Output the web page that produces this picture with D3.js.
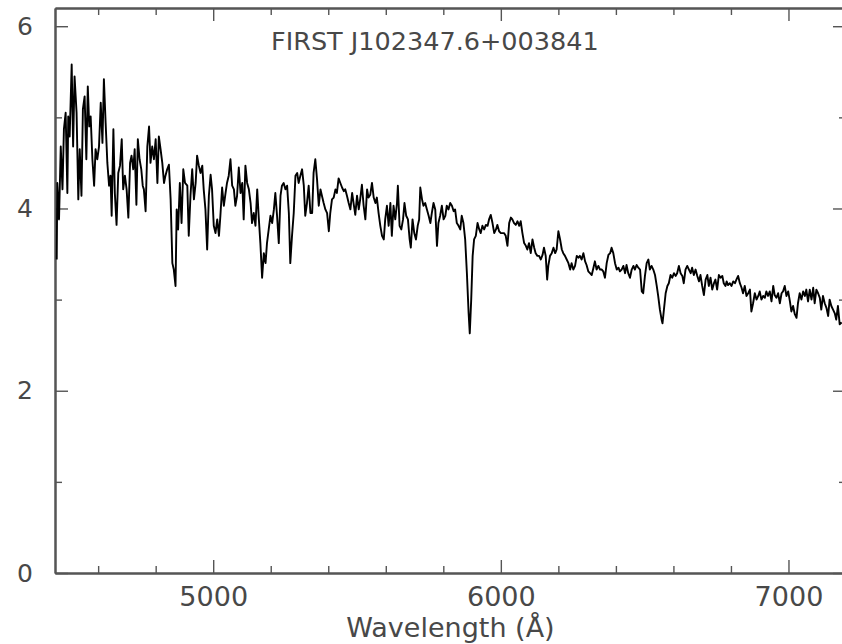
<!DOCTYPE html>
<html>
<head>
<meta charset="utf-8">
<script src="https://cdn.jsdelivr.net/npm/d3@7"></script>
<style>
  html, body { margin: 0; padding: 0; background: #fff; }
  svg { display: block; }
</style>
</head>
<body>
<svg id="chart"></svg>
<script>
// spectrum (wavelength in Angstrom, flux in arbitrary units)
const wavelength = [
  4456, 4458, 4464, 4470, 4476, 4481, 4487, 4493, 4496, 4501,
  4508, 4513, 4518, 4525, 4531, 4536, 4542, 4547, 4553, 4559,
  4564, 4569, 4574, 4580, 4586, 4591, 4597, 4603, 4609, 4615,
  4620, 4626, 4632, 4638, 4643, 4647, 4653, 4658, 4664, 4670,
  4676, 4682, 4687, 4693, 4699, 4705, 4711, 4716, 4722, 4727,
  4733, 4738, 4744, 4750, 4755, 4759, 4765, 4771, 4777, 4782,
  4788, 4794, 4800, 4806, 4811, 4817, 4823, 4829, 4834, 4840,
  4846, 4852, 4858, 4863, 4869, 4873, 4878, 4884, 4890, 4896,
  4902,
  4910, 4915, 4921, 4927, 4933, 4939, 4944, 4950, 4956, 4962,
  4967, 4973, 4979, 4985, 4991, 4996, 5002, 5008, 5014, 5020,
  5025, 5031, 5037, 5043, 5048, 5054, 5060, 5066, 5072, 5077,
  5083, 5089, 5095, 5101, 5106, 5112, 5118, 5124, 5130, 5135,
  5141, 5147, 5153, 5158, 5164, 5170, 5176, 5182, 5187, 5193,
  5199, 5205, 5211, 5216, 5222, 5228, 5234, 5239, 5245, 5251,
  5257, 5263, 5268, 5274, 5280, 5286, 5292, 5297, 5303, 5309,
  5315, 5320, 5326, 5332, 5338, 5344, 5349, 5355, 5361, 5367,
  5373,
  5378, 5384, 5390, 5396, 5402, 5407, 5413, 5419, 5425, 5430,
  5436, 5442, 5448, 5454, 5459, 5465, 5471, 5477, 5483, 5488,
  5494, 5500, 5506, 5511, 5517, 5523, 5529, 5535, 5540, 5546,
  5552, 5558, 5564, 5569, 5575, 5581, 5587, 5593, 5598, 5604,
  5610, 5616, 5621, 5627, 5633, 5639, 5642, 5648, 5654, 5660,
  5665, 5671, 5677, 5683, 5687, 5693, 5699, 5705, 5711, 5716,
  5720, 5726, 5731, 5737, 5743, 5749, 5755, 5760, 5766, 5772,
  5778, 5783, 5789, 5795, 5801, 5807, 5812, 5818, 5824, 5830,
  5836, 5841,
  5847, 5853, 5859, 5864, 5870, 5876, 5882, 5888, 5892, 5897,
  5902, 5907, 5913, 5919, 5925, 5930, 5936, 5942, 5948, 5954,
  5959, 5965, 5971, 5977, 5983, 5988, 5994, 6000, 6006, 6011,
  6017, 6023, 6029, 6035, 6040, 6046, 6052, 6058, 6064, 6069,
  6075, 6081, 6087, 6092, 6098, 6104, 6110, 6116, 6121, 6127,
  6133, 6139, 6145, 6150, 6156, 6161, 6165, 6171, 6177, 6183,
  6189, 6194, 6200, 6206, 6212, 6217, 6223, 6229, 6235, 6241,
  6246, 6252, 6258, 6264, 6270, 6275, 6281, 6287, 6293, 6298,
  6304, 6310,
  6316, 6322, 6327, 6333, 6339, 6345, 6351, 6356, 6362, 6368,
  6374, 6380, 6385, 6391, 6397, 6403, 6409, 6414, 6420, 6426,
  6432, 6437, 6443, 6449, 6455, 6461, 6466, 6472, 6478, 6484,
  6490, 6495, 6501, 6507, 6513, 6518, 6524, 6530, 6536, 6542,
  6547, 6553, 6559, 6562, 6567, 6573, 6579, 6584, 6590, 6596,
  6602, 6608, 6613, 6619, 6625, 6631, 6636, 6642, 6648, 6654,
  6660, 6665, 6671, 6677, 6683, 6689, 6694, 6700, 6706, 6712,
  6718, 6723, 6729, 6735, 6741, 6746, 6752, 6758, 6764, 6770,
  6775, 6781,
  6785, 6790, 6796, 6802, 6808, 6814, 6819, 6825, 6831, 6837,
  6842, 6848, 6854, 6860, 6866, 6871, 6877, 6883, 6889, 6895,
  6900, 6906, 6912, 6918, 6923, 6929, 6935, 6941, 6947, 6952,
  6958, 6964, 6970, 6976, 6981, 6987, 6993, 6999, 7005, 7010,
  7016, 7022, 7028, 7033, 7039, 7045, 7051, 7057, 7062, 7068,
  7074, 7080, 7086, 7091, 7097, 7103, 7109, 7114, 7120, 7126,
  7132, 7138, 7143, 7149, 7155, 7161, 7166, 7172, 7178, 7185,
];
const flux = [
  3.44, 4.28, 3.88, 4.68, 4.21, 4.87, 5.05, 4.17, 5.01, 4.79,
  5.58, 4.68, 5.45, 5.05, 4.10, 4.65, 4.14, 5.09, 5.23, 4.54,
  5.34, 4.90, 5.01, 4.54, 4.25, 4.65, 4.54, 4.68, 5.16, 4.72,
  5.42, 4.94, 4.50, 4.25, 4.36, 3.92, 4.87, 4.17, 3.82, 4.39,
  4.47, 4.76, 4.21, 4.36, 4.21, 3.90, 4.50, 4.58, 4.43, 4.65,
  4.04, 4.76, 4.54, 4.43, 4.25, 4.21, 3.97, 4.68, 4.90, 4.50,
  4.68, 4.54, 4.76, 4.28, 4.79, 4.65, 4.50, 4.28, 4.36, 4.43,
  4.48, 4.10, 3.40, 3.33, 3.15, 3.99, 3.77, 4.28, 3.84, 4.43,
  4.28,
  4.25, 3.70, 4.14, 4.43, 4.10, 4.28, 4.58, 4.47, 4.39, 4.47,
  4.21, 3.99, 3.55, 4.14, 4.37, 4.21, 3.81, 3.73, 3.88, 3.70,
  3.92, 4.23, 4.03, 4.17, 4.28, 4.36, 4.54, 4.25, 4.21, 4.03,
  4.14, 4.45, 4.17, 4.28, 3.88, 4.47, 4.28, 4.21, 4.06, 3.84,
  3.95, 3.81, 4.21, 3.92, 3.62, 3.24, 3.51, 3.40, 3.62, 3.77,
  3.92, 3.84, 3.99, 4.17, 3.92, 3.62, 4.14, 4.25, 4.28, 4.21,
  4.25, 3.95, 3.40, 3.70, 3.95, 4.36, 4.39, 4.28, 4.36, 4.43,
  4.25, 3.92, 4.06, 4.25, 3.95, 3.95, 4.39, 4.54, 4.32, 4.03,
  4.21,
  4.14, 4.06, 3.99, 3.95, 3.75, 3.95, 4.10, 4.12, 4.21, 4.17,
  4.33, 4.28, 4.23, 4.19, 4.21, 4.14, 4.06, 3.99, 4.17, 4.06,
  3.93, 4.14, 3.99, 4.10, 4.26, 4.03, 3.88, 4.21, 4.12, 4.15,
  4.28, 4.12, 4.06, 4.12, 3.95, 3.81, 3.70, 3.66, 3.88, 4.03,
  3.81, 4.06, 3.70, 4.03, 3.88, 4.06, 4.25, 3.81, 3.77, 3.88,
  4.06, 3.92, 3.88, 3.66, 3.57, 3.88, 3.73, 3.66, 3.81, 3.88,
  4.23, 4.10, 4.03, 4.06, 3.99, 3.92, 3.84, 3.95, 4.06, 3.99,
  3.59, 3.84, 3.92, 4.03, 3.88, 3.92, 4.03, 3.99, 4.06, 4.03,
  3.97, 3.99,
  3.84, 3.81, 3.77, 3.92, 3.84, 3.66, 3.29, 2.85, 2.63, 3.00,
  3.48, 3.66, 3.70, 3.84, 3.77, 3.73, 3.81, 3.77, 3.82, 3.81,
  3.88, 3.93, 3.84, 3.73, 3.77, 3.82, 3.75, 3.73, 3.73, 3.73,
  3.70, 3.59, 3.84, 3.90, 3.88, 3.84, 3.82, 3.86, 3.81, 3.86,
  3.73, 3.62, 3.59, 3.55, 3.62, 3.51, 3.66, 3.57, 3.51, 3.48,
  3.48, 3.44, 3.49, 3.57, 3.48, 3.22, 3.37, 3.48, 3.51, 3.57,
  3.51, 3.55, 3.75, 3.66, 3.55, 3.51, 3.48, 3.44, 3.40, 3.33,
  3.40, 3.33, 3.37, 3.48, 3.46, 3.48, 3.44, 3.51, 3.42, 3.38,
  3.31, 3.29,
  3.27, 3.35, 3.42, 3.33, 3.37, 3.33, 3.33, 3.31, 3.24, 3.40,
  3.49, 3.51, 3.57, 3.51, 3.40, 3.33, 3.35, 3.31, 3.33, 3.37,
  3.29, 3.38, 3.29, 3.24, 3.33, 3.37, 3.33, 3.38, 3.35, 3.33,
  3.09, 3.07, 3.26, 3.40, 3.44, 3.33, 3.37, 3.33, 3.27, 3.15,
  3.04, 2.89, 2.78, 2.74, 2.89, 3.07, 3.15, 3.18, 3.27, 3.24,
  3.29, 3.26, 3.29, 3.37, 3.29, 3.26, 3.18, 3.33, 3.37, 3.33,
  3.29, 3.35, 3.27, 3.33, 3.26, 3.20, 3.27, 3.15, 3.05, 3.22,
  3.27, 3.15, 3.24, 3.11, 3.18, 3.22, 3.11, 3.27, 3.24, 3.26,
  3.18, 3.15,
  3.20, 3.16, 3.18, 3.15, 3.20, 3.18, 3.22, 3.26, 3.18, 3.13,
  3.07, 3.15, 3.04, 3.07, 3.11, 2.87, 2.96, 3.07, 3.00, 3.04,
  3.09, 3.00, 3.04, 3.02, 3.09, 3.04, 3.09, 2.98, 3.15, 3.05,
  3.02, 3.07, 2.96, 3.07, 3.09, 3.15, 3.04, 3.09, 2.98, 2.87,
  2.93, 2.84, 2.80, 2.96, 3.07, 3.00, 3.09, 3.04, 3.11, 2.98,
  3.11, 3.00, 3.13, 2.96, 3.11, 3.07, 3.02, 2.89, 3.04, 2.96,
  2.91, 2.82, 3.00, 2.93, 2.89, 2.85, 2.78, 2.93, 2.73, 2.75,
];

const title = 'FIRST J102347.6+003841';
const xLabel = 'Wavelength (Å)';
const xMajor = [5000, 6000, 7000];
const xMinor = [4600, 4800, 5200, 5400, 5600, 5800, 6200, 6400, 6600, 6800];
const yMajor = [0, 2, 4, 6];
const yMinor = [1, 3, 5];

const width = 842;
const height = 644;
const margin = { top: 8, right: -4, bottom: 71, left: 55 };
const axisColor = '#555';
const textColor = '#484848';
const font = '"DejaVu Sans", sans-serif';

const svg = d3.select('#chart')
  .attr('width', width)
  .attr('height', height);

const x = d3.scaleLinear()
  .domain([4450, 7200])
  .range([margin.left, width - margin.right]);

const y = d3.scaleLinear()
  .domain([0, 6.2])
  .range([height - margin.bottom, margin.top]);

const styleAxis = g => {
  g.attr('font-family', font).attr('fill', textColor);
  g.select('.domain').attr('stroke', axisColor).attr('stroke-width', 2);
  g.selectAll('.tick line').attr('stroke', axisColor).attr('stroke-width', 1.4);
  g.selectAll('.tick text').attr('fill', textColor);
};

// bottom
svg.append('g')
  .attr('transform', `translate(0,${y(0)})`)
  .call(d3.axisBottom(x).tickValues(xMinor).tickSizeInner(-7).tickSizeOuter(0).tickFormat(''))
  .call(styleAxis);
svg.append('g')
  .attr('transform', `translate(0,${y(0)})`)
  .call(d3.axisBottom(x).tickValues(xMajor).tickSizeInner(-13).tickSizeOuter(0).tickPadding(14).tickFormat(d3.format('d')))
  .call(styleAxis)
  .attr('font-size', 27);

// top
svg.append('g')
  .attr('transform', `translate(0,${y.range()[1]})`)
  .call(d3.axisTop(x).tickValues(xMinor).tickSizeInner(-7).tickSizeOuter(0).tickFormat(''))
  .call(styleAxis);
svg.append('g')
  .attr('transform', `translate(0,${y.range()[1]})`)
  .call(d3.axisTop(x).tickValues(xMajor).tickSizeInner(-13).tickSizeOuter(0).tickFormat(''))
  .call(styleAxis);

// left
svg.append('g')
  .attr('transform', `translate(${x.range()[0]},0)`)
  .call(d3.axisLeft(y).tickValues(yMinor).tickSizeInner(-7).tickSizeOuter(0).tickFormat(''))
  .call(styleAxis);
svg.append('g')
  .attr('transform', `translate(${x.range()[0]},0)`)
  .call(d3.axisLeft(y).tickValues(yMajor).tickSizeInner(-13).tickSizeOuter(0).tickPadding(22).tickFormat(d3.format('d')))
  .call(styleAxis)
  .attr('font-size', 25);

// right
svg.append('g')
  .attr('transform', `translate(${x.range()[1]},0)`)
  .call(d3.axisRight(y).tickValues(yMinor).tickSizeInner(-7).tickSizeOuter(0).tickFormat(''))
  .call(styleAxis);
svg.append('g')
  .attr('transform', `translate(${x.range()[1]},0)`)
  .call(d3.axisRight(y).tickValues(yMajor).tickSizeInner(-13).tickSizeOuter(0).tickFormat(''))
  .call(styleAxis);

svg.append('clipPath')
  .attr('id', 'plot-clip')
  .append('rect')
  .attr('x', x.range()[0])
  .attr('y', y.range()[1])
  .attr('width', x.range()[1] - x.range()[0])
  .attr('height', y.range()[0] - y.range()[1]);

const line = d3.line()
  .x(i => x(wavelength[i]))
  .y(i => y(flux[i]));

svg.append('path')
  .datum(d3.range(wavelength.length))
  .attr('clip-path', 'url(#plot-clip)')
  .attr('fill', 'none')
  .attr('stroke', '#000')
  .attr('stroke-width', 1.9)
  .attr('stroke-linejoin', 'round')
  .attr('d', line);

svg.append('text')
  .attr('x', 271)
  .attr('y', 50)
  .attr('font-family', font)
  .attr('font-size', 25.5)
  .attr('fill', textColor)
  .text(title);

svg.append('text')
  .attr('x', (x.range()[0] + x.range()[1]) / 2)
  .attr('y', 637)
  .attr('text-anchor', 'middle')
  .attr('font-family', font)
  .attr('font-size', 27)
  .attr('fill', textColor)
  .text(xLabel);
</script>
</body>
</html>
